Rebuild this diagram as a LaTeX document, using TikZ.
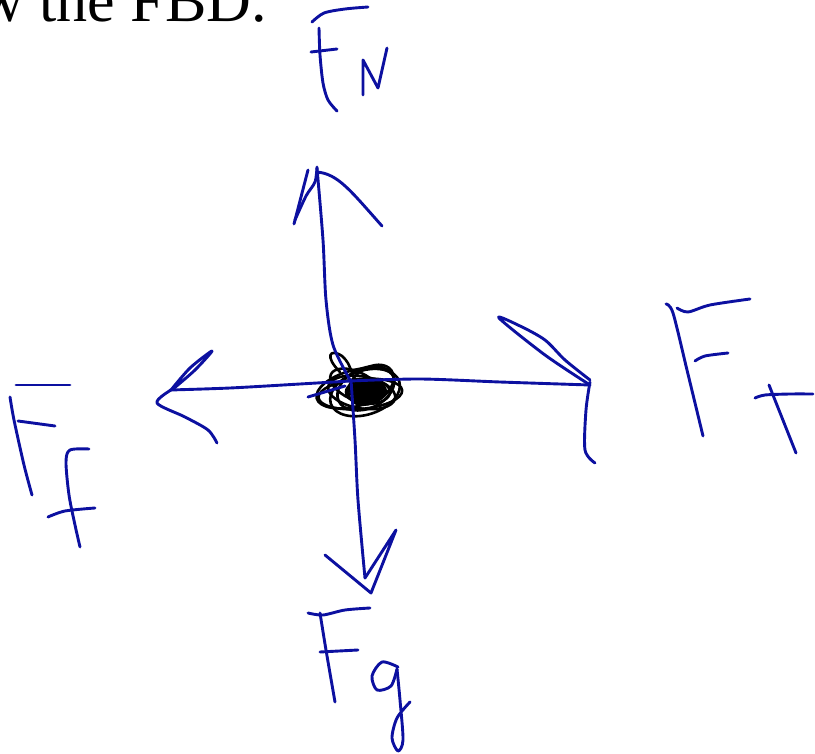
\documentclass[tikz,border=0pt]{standalone}
\usepackage{fontspec}
\usetikzlibrary{calc}
\setmainfont{Liberation Serif}
\definecolor{ink}{RGB}{12,16,160}
\begin{document}
\begin{tikzpicture}[x=1pt,y=-1pt,
  pen/.style={draw=ink,line width=2.9pt,line cap=round,line join=round},
  blk/.style={draw=black,line width=2.6pt,line cap=round,line join=round}]
\useasboundingbox (0,0) rectangle (815,754);
\clip (0,0) rectangle (815,754);
\node[anchor=base east,inner sep=0pt,font=\fontsize{62}{66}\selectfont] (title) at (267,22) {Draw the FBD.};
% center scribble
\coordinate (c) at (360,390);
\foreach \a/\rx/\ry/\dx/\dy in {15/40/18/-4/-3, -10/34/16/2/2, 25/30/20/6/1, 5/42/15/0/4, 35/25/17/12/2, -25/27/14/-6/-2, 18/36/22/4/4, 0/22/12/8/2}{
  \draw[blk,rotate around={\a:(c)}] ($(c)+(\dx,\dy)$) ellipse ({\rx} and {\ry});
}
\draw[blk] (340,372) .. controls (324,356) and (330,348) .. (342,356) .. controls (348,362) .. (354,378);
\fill[black] (368,391) ellipse (19 and 12);
% up arrow
\draw[pen] plot[smooth] coordinates {(350,380) (333,345) (326,300) (323,240) (317,168)};
\draw[pen] (294,224) -- (308,170);
\draw[pen] plot[smooth] coordinates {(295,220) (306,196) (315,182) (317,167)};
\draw[pen] (317,172) .. controls (338,174) and (350,190) .. (382,226);
% down arrow
\draw[pen] plot[smooth] coordinates {(351,380) (355,440) (358,500) (365,578)};
\draw[pen] (365,578) -- (396,530) -- (371,593) -- (325,555);
% horizontal line
\draw[pen] plot[smooth] coordinates {(170,390) (230,388) (300,384) (350,381)};
\draw[pen] plot[smooth] coordinates {(350,381) (420,379) (500,382) (590,385)};
\draw[pen] (308,397) -- (345,386);
% left arrowhead
\draw[pen] plot[smooth] coordinates {(171,390) (190,368) (212,351) (195,370) (173,389)};
\draw[pen] plot[smooth] coordinates {(171,390) (157,403) (185,417) (208,430) (217,443)};
% right arrowhead
\draw[pen] plot[smooth] coordinates {(590,385) (545,355) (499,318) (520,326) (545,340) (565,360) (590,380)};
\draw[pen] plot[smooth] coordinates {(590,382) (586,410) (585,450) (595,463)};
% F_N
\draw[pen] plot[smooth] coordinates {(312,22) (324,13) (345,9) (368,7)};
\draw[pen] plot[smooth] coordinates {(319,28) (320,55) (323,83) (328,100) (337,111)};
\draw[pen] (311,52) -- (337,49);
\draw[pen] (363,95) -- (363,60) -- (378,88) -- (387,48);
% F_t
\draw[pen] plot[smooth] coordinates {(666,304) (673,313) (687,370) (703,436)};
\draw[pen] plot[smooth] coordinates {(677,308) (688,312) (710,305) (750,299)};
\draw[pen] plot[smooth] coordinates {(695,361) (705,356) (728,353)};
\draw[pen] plot[smooth] coordinates {(755,398) (765,395) (790,394) (813,394)};
\draw[pen] (769,385) -- (796,453);
% F_f
\draw[pen] (16,385) -- (70,385);
\draw[pen] plot[smooth] coordinates {(10,397) (14,420) (24,465) (32,495)};
\draw[pen] (18,421) -- (55,426);
\draw[pen] plot[smooth] coordinates {(89,449) (70,450) (66,462) (69,495) (75,525) (80,547)};
\draw[pen] plot[smooth] coordinates {(48,517) (65,511) (95,508)};
% F_g
\draw[pen] plot[smooth] coordinates {(308,613) (323,615) (345,610) (370,608)};
\draw[pen] plot[smooth] coordinates {(320,613) (326,650) (335,702)};
\draw[pen] (320,652) -- (358,650);
\draw[pen] plot[smooth] coordinates {(398,667) (382,662) (372,676) (377,690) (391,686) (397,669)};
\draw[pen] plot[smooth] coordinates {(397,669) (400,700) (403,740) (398,751) (392,738) (397,718) (410,702)};
\end{tikzpicture}
\end{document}
